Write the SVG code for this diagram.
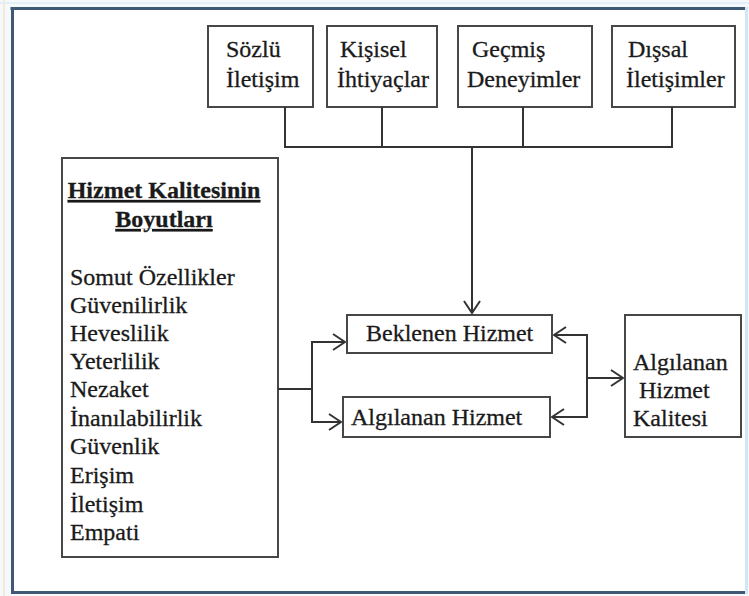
<svg xmlns="http://www.w3.org/2000/svg" width="749" height="596" viewBox="0 0 749 596">
  <style>
    .box { fill: #ffffff; stroke: #474747; stroke-width: 2; }
    .t { font-family: "Liberation Serif", "Times New Roman", serif; font-size: 24px; fill: #1a1a1a; stroke: #1a1a1a; stroke-width: 0.3; }
    .title { font-weight: bold; text-decoration: underline; text-anchor: middle; }
    .conn { fill: none; stroke: #333333; stroke-width: 2; }
  </style>
  <defs>
    <marker id="arr" viewBox="0 0 14 18" refX="13" refY="9" markerWidth="14" markerHeight="18" markerUnits="userSpaceOnUse" orient="auto">
      <path d="M1,1 L13,9 L1,17" fill="none" stroke="#333333" stroke-width="2"/>
    </marker>
  </defs>

  <!-- frame -->
  <rect x="0" y="0" width="749" height="596" fill="#f5f9fc"/>
  <line x1="0" y1="3" x2="749" y2="3" stroke="#e2eef8" stroke-width="2"/>
  <line x1="4" y1="0" x2="4" y2="596" stroke="#f3ead9" stroke-width="2"/>
  <rect x="12" y="8" width="733" height="584" fill="#ffffff"/>
  <line x1="10.5" y1="8.5" x2="745" y2="8.5" stroke="#3f5874" stroke-width="3"/>
  <line x1="12.5" y1="7" x2="12.5" y2="594" stroke="#3f5874" stroke-width="3"/>
  <line x1="11" y1="592.5" x2="746" y2="592.5" stroke="#3f5874" stroke-width="3"/>
  <line x1="746.5" y1="7" x2="746.5" y2="594" stroke="#d3e6f4" stroke-width="3"/>

  <!-- top nodes -->
  <g id="sozlu">
    <rect class="box" x="208" y="26" width="105" height="81"/>
    <text class="t" x="226" y="57">Sözlü</text>
    <text class="t" x="226" y="87">İletişim</text>
  </g>
  <g id="kisisel">
    <rect class="box" x="327" y="26" width="110" height="81"/>
    <text class="t" x="340" y="57">Kişisel</text>
    <text class="t" x="337" y="87">İhtiyaçlar</text>
  </g>
  <g id="gecmis">
    <rect class="box" x="458" y="26" width="134" height="81"/>
    <text class="t" x="472" y="57">Geçmiş</text>
    <text class="t" x="467" y="87">Deneyimler</text>
  </g>
  <g id="dissal">
    <rect class="box" x="612" y="26" width="123" height="81"/>
    <text class="t" x="628" y="57">Dışsal</text>
    <text class="t" x="626" y="87">İletişimler</text>
  </g>

  <!-- left node -->
  <g id="boyutlar">
    <rect class="box" x="62" y="158" width="216" height="399"/>
    <text class="t title" x="164" y="198">Hizmet Kalitesinin</text>
    <text class="t title" x="164" y="227">Boyutları</text>
    <text class="t" x="70" y="285">Somut Özellikler</text>
    <text class="t" x="70" y="313">Güvenilirlik</text>
    <text class="t" x="70" y="341">Heveslilik</text>
    <text class="t" x="70" y="369">Yeterlilik</text>
    <text class="t" x="70" y="397">Nezaket</text>
    <text class="t" x="70" y="426">İnanılabilirlik</text>
    <text class="t" x="70" y="454">Güvenlik</text>
    <text class="t" x="70" y="483">Erişim</text>
    <text class="t" x="70" y="512">İletişim</text>
    <text class="t" x="70" y="540">Empati</text>
  </g>

  <!-- middle nodes -->
  <g id="beklenen">
    <rect class="box" x="347" y="315" width="205" height="38"/>
    <text class="t" x="366" y="341">Beklenen Hizmet</text>
  </g>
  <g id="algilanan">
    <rect class="box" x="343" y="397" width="207" height="40"/>
    <text class="t" x="351" y="425">Algılanan Hizmet</text>
  </g>

  <!-- right node -->
  <g id="kalite">
    <rect class="box" x="625" y="315" width="116" height="122"/>
    <text class="t" x="633" y="370">Algılanan</text>
    <text class="t" x="639" y="398">Hizmet</text>
    <text class="t" x="633" y="426">Kalitesi</text>
  </g>

  <!-- connectors -->
  <g id="connectors">
    <path class="conn" d="M285,107 V147 M382,107 V147 M523,107 V147 M672,107 V147 M284,147 H673"/>
    <path class="conn" d="M472,147 V313" marker-end="url(#arr)"/>
    <path class="conn" d="M278,389 H312 M312,341 V423"/>
    <path class="conn" d="M312,342 H345" marker-end="url(#arr)"/>
    <path class="conn" d="M312,422 H341" marker-end="url(#arr)"/>
    <path class="conn" d="M587,334 V418"/>
    <path class="conn" d="M587,335 H554" marker-end="url(#arr)"/>
    <path class="conn" d="M587,417 H552" marker-end="url(#arr)"/>
    <path class="conn" d="M587,378 H623" marker-end="url(#arr)"/>
  </g>
</svg>
